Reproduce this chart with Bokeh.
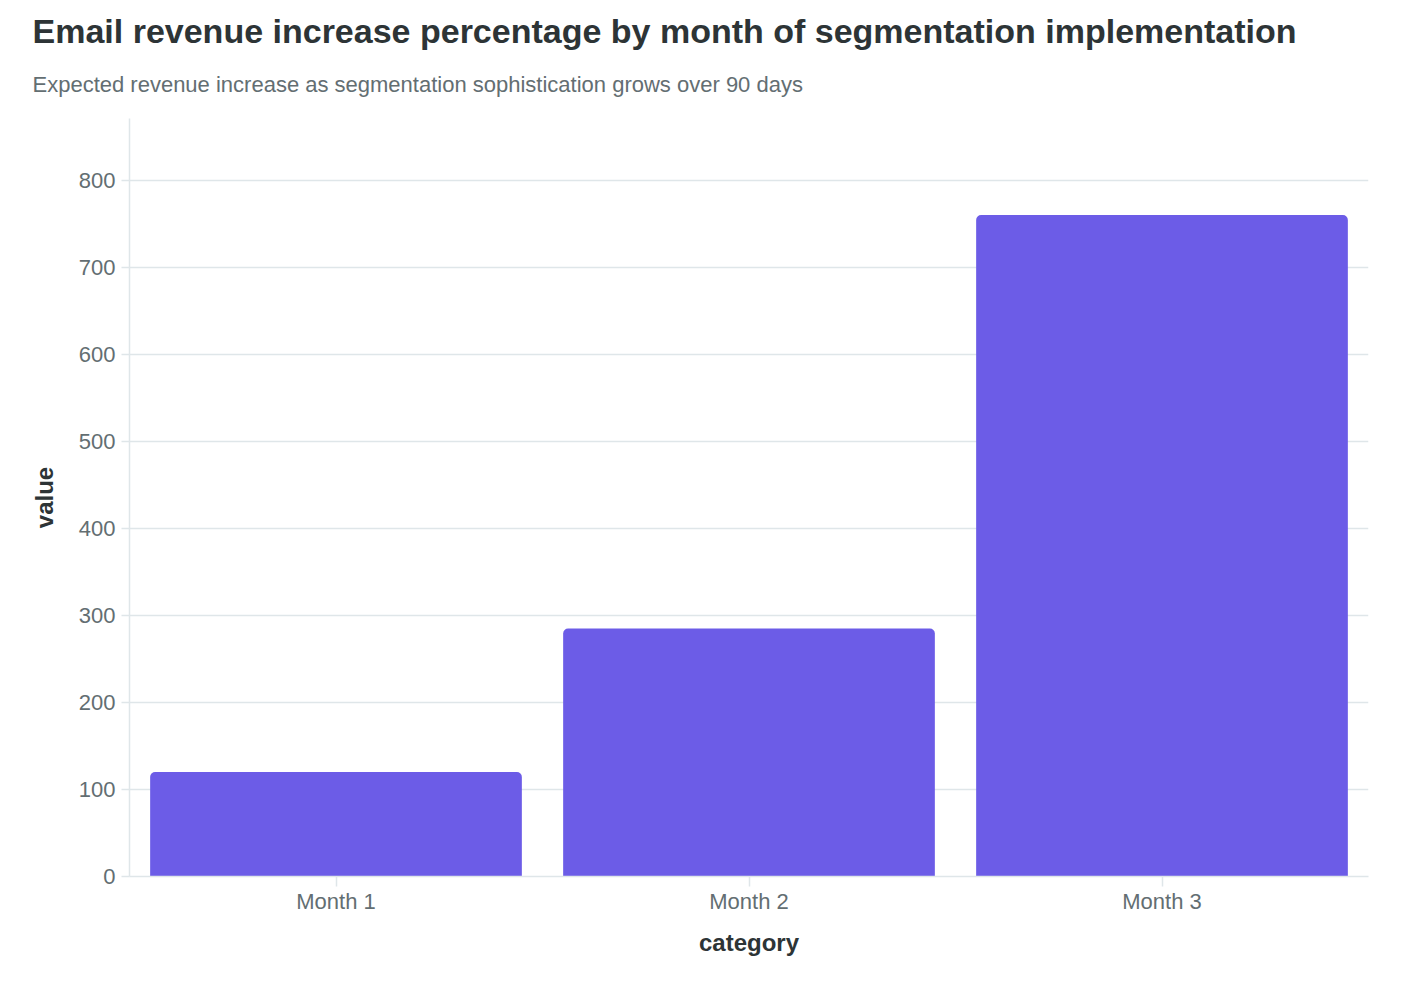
from bokeh.embed import file_html
from bokeh.resources import INLINE
from bokeh.models import ColumnDataSource, Title, FixedTicker, Range1d
from bokeh.plotting import figure

categories = ["Month 1", "Month 2", "Month 3"]
values = [120, 285, 760]
y_ticks = [0, 100, 200, 300, 400, 500, 600, 700, 800]

FONT = "Liberation Sans"
DARK = "#2d3436"
GREY = "#636e72"
LIGHT = "#dfe6e9"

source = ColumnDataSource(data=dict(category=categories, value=values))

p = figure(
    x_range=categories, y_range=Range1d(0, 871),
    width=1400, height=968,
    output_backend="svg", toolbar_location=None,
    min_border_left=129, min_border_right=32,
    min_border_top=118, min_border_bottom=92,
)
p.outline_line_color = None

p.vbar(x="category", top="value", width=0.9, source=source,
       fill_color="#6c5ce7", line_color=None, border_radius=[5, 5, 0, 0])

# subtitle goes in first so it sits next to the plot; top-aligned so the
# standoff becomes the gap above the frame
sub = Title(text="Expected revenue increase as segmentation sophistication grows over 90 days",
            text_font=FONT, text_font_size="22px", text_font_style="normal",
            text_color=GREY, align="left", vertical_align="top",
            offset=-97, standoff=40)
p.add_layout(sub, "above")
main = Title(text="Email revenue increase percentage by month of segmentation implementation",
             text_font=FONT, text_font_size="34px", text_font_style="bold",
             text_color=DARK, align="left", text_line_height=1.5,
             offset=-97, standoff=4)
p.add_layout(main, "above")

p.xgrid.grid_line_color = None
p.ygrid.grid_line_color = LIGHT
p.ygrid.grid_line_width = 1.5

p.yaxis.ticker = FixedTicker(ticks=y_ticks)
for ax in (p.xaxis, p.yaxis):
    ax.axis_line_color = LIGHT
    ax.axis_line_width = 1.5
    ax.major_tick_line_color = LIGHT
    ax.major_tick_line_width = 1.5
    ax.minor_tick_line_color = None
    ax.major_tick_in = 0
    ax.major_label_text_font = FONT
    ax.major_label_text_font_size = "22px"
    ax.major_label_text_color = GREY
    ax.axis_label_text_font = FONT
    ax.axis_label_text_font_size = "24px"
    ax.axis_label_text_font_style = "bold"
    ax.axis_label_text_color = DARK

p.yaxis.major_tick_out = 8
p.yaxis.major_label_standoff = 6
p.yaxis.axis_label = "value"
p.yaxis.axis_label_standoff = 18

p.xaxis.major_tick_out = 10
p.xaxis.major_label_standoff = 2
p.xaxis.axis_label = "category"
p.xaxis.axis_label_standoff = 12

open("out.html", "w").write(file_html(p, INLINE))
